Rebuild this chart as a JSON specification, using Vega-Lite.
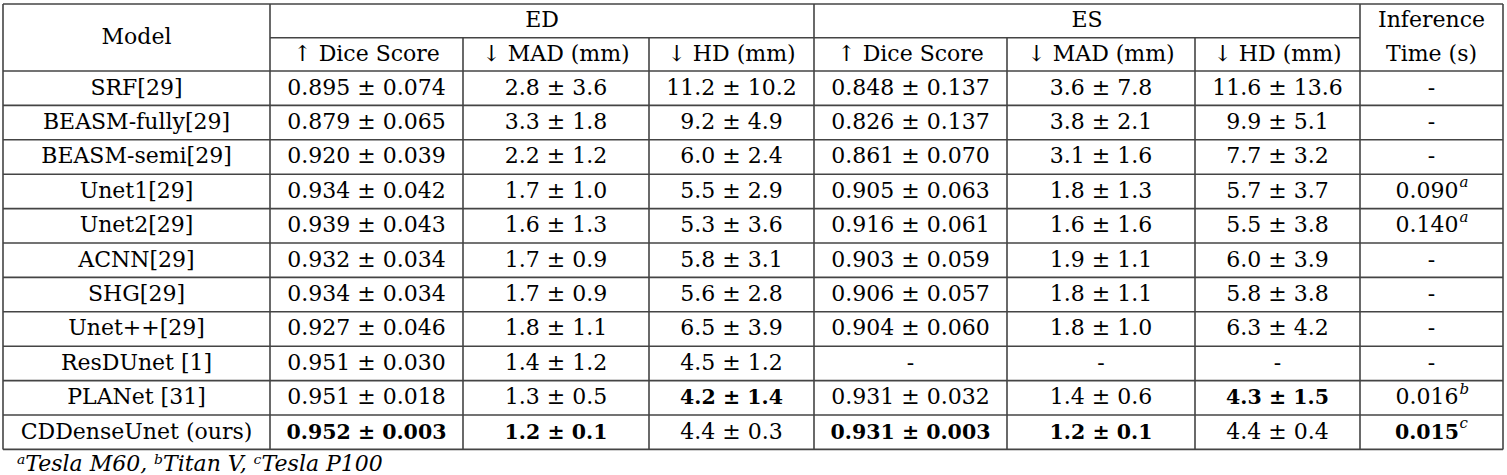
{
  "$schema": "https://vega.github.io/schema/vega-lite/v6.json",
  "width": 1507,
  "height": 475,
  "padding": 0,
  "autosize": {"type": "fit", "contains": "padding"},
  "background": "white",
  "config": {"view": {"stroke": null}, "text": {"font": "DejaVu Serif"}},
  "datasets": {
    "lines": [
      {"x": 0, "x2": 8, "y": -2, "y2": -2},
      {"x": 1, "x2": 7, "y": -1, "y2": -1},
      {"x": 0, "x2": 8, "y": 0, "y2": 0},
      {"x": 0, "x2": 8, "y": 1, "y2": 1},
      {"x": 0, "x2": 8, "y": 2, "y2": 2},
      {"x": 0, "x2": 8, "y": 3, "y2": 3},
      {"x": 0, "x2": 8, "y": 4, "y2": 4},
      {"x": 0, "x2": 8, "y": 5, "y2": 5},
      {"x": 0, "x2": 8, "y": 6, "y2": 6},
      {"x": 0, "x2": 8, "y": 7, "y2": 7},
      {"x": 0, "x2": 8, "y": 8, "y2": 8},
      {"x": 0, "x2": 8, "y": 9, "y2": 9},
      {"x": 0, "x2": 8, "y": 10, "y2": 10},
      {"x": 0, "x2": 8, "y": 11, "y2": 11},
      {"x": 0, "x2": 0, "y": -2, "y2": 11},
      {"x": 1, "x2": 1, "y": -2, "y2": 11},
      {"x": 4, "x2": 4, "y": -2, "y2": 11},
      {"x": 7, "x2": 7, "y": -2, "y2": 11},
      {"x": 8, "x2": 8, "y": -2, "y2": 11},
      {"x": 2, "x2": 2, "y": -1, "y2": 11},
      {"x": 3, "x2": 3, "y": -1, "y2": 11},
      {"x": 5, "x2": 5, "y": -1, "y2": 11},
      {"x": 6, "x2": 6, "y": -1, "y2": 11}
    ],
    "header": [
      {"c": 0.5, "r": -1, "t": "Model"},
      {"c": 2.425, "r": -1.5, "t": "ED"},
      {"c": 5.426, "r": -1.5, "t": "ES"},
      {"c": 7.5, "r": -1.5, "t": "Inference"},
      {"c": 1.5, "r": -0.5, "t": "↑ Dice Score"},
      {"c": 2.5, "r": -0.5, "t": "↓ MAD (mm)"},
      {"c": 3.5, "r": -0.5, "t": "↓ HD (mm)"},
      {"c": 4.5, "r": -0.5, "t": "↑ Dice Score"},
      {"c": 5.5, "r": -0.5, "t": "↓ MAD (mm)"},
      {"c": 6.5, "r": -0.5, "t": "↓ HD (mm)"},
      {"c": 7.5, "r": -0.5, "t": "Time (s)"}
    ],
    "body": [
      {"r": 0.5, "c": 0.5, "t": "SRF[29]", "best": false},
      {"r": 0.5, "c": 1.5, "t": "0.895 ± 0.074", "best": false},
      {"r": 0.5, "c": 2.5, "t": "2.8 ± 3.6", "best": false},
      {"r": 0.5, "c": 3.5, "t": "11.2 ± 10.2", "best": false},
      {"r": 0.5, "c": 4.5, "t": "0.848 ± 0.137", "best": false},
      {"r": 0.5, "c": 5.5, "t": "3.6 ± 7.8", "best": false},
      {"r": 0.5, "c": 6.5, "t": "11.6 ± 13.6", "best": false},
      {"r": 0.5, "c": 7.5, "t": "-", "best": false},
      {"r": 1.5, "c": 0.5, "t": "BEASM-fully[29]", "best": false},
      {"r": 1.5, "c": 1.5, "t": "0.879 ± 0.065", "best": false},
      {"r": 1.5, "c": 2.5, "t": "3.3 ± 1.8", "best": false},
      {"r": 1.5, "c": 3.5, "t": "9.2 ± 4.9", "best": false},
      {"r": 1.5, "c": 4.5, "t": "0.826 ± 0.137", "best": false},
      {"r": 1.5, "c": 5.5, "t": "3.8 ± 2.1", "best": false},
      {"r": 1.5, "c": 6.5, "t": "9.9 ± 5.1", "best": false},
      {"r": 1.5, "c": 7.5, "t": "-", "best": false},
      {"r": 2.5, "c": 0.5, "t": "BEASM-semi[29]", "best": false},
      {"r": 2.5, "c": 1.5, "t": "0.920 ± 0.039", "best": false},
      {"r": 2.5, "c": 2.5, "t": "2.2 ± 1.2", "best": false},
      {"r": 2.5, "c": 3.5, "t": "6.0 ± 2.4", "best": false},
      {"r": 2.5, "c": 4.5, "t": "0.861 ± 0.070", "best": false},
      {"r": 2.5, "c": 5.5, "t": "3.1 ± 1.6", "best": false},
      {"r": 2.5, "c": 6.5, "t": "7.7 ± 3.2", "best": false},
      {"r": 2.5, "c": 7.5, "t": "-", "best": false},
      {"r": 3.5, "c": 0.5, "t": "Unet1[29]", "best": false},
      {"r": 3.5, "c": 1.5, "t": "0.934 ± 0.042", "best": false},
      {"r": 3.5, "c": 2.5, "t": "1.7 ± 1.0", "best": false},
      {"r": 3.5, "c": 3.5, "t": "5.5 ± 2.9", "best": false},
      {"r": 3.5, "c": 4.5, "t": "0.905 ± 0.063", "best": false},
      {"r": 3.5, "c": 5.5, "t": "1.8 ± 1.3", "best": false},
      {"r": 3.5, "c": 6.5, "t": "5.7 ± 3.7", "best": false},
      {"r": 4.5, "c": 0.5, "t": "Unet2[29]", "best": false},
      {"r": 4.5, "c": 1.5, "t": "0.939 ± 0.043", "best": false},
      {"r": 4.5, "c": 2.5, "t": "1.6 ± 1.3", "best": false},
      {"r": 4.5, "c": 3.5, "t": "5.3 ± 3.6", "best": false},
      {"r": 4.5, "c": 4.5, "t": "0.916 ± 0.061", "best": false},
      {"r": 4.5, "c": 5.5, "t": "1.6 ± 1.6", "best": false},
      {"r": 4.5, "c": 6.5, "t": "5.5 ± 3.8", "best": false},
      {"r": 5.5, "c": 0.5, "t": "ACNN[29]", "best": false},
      {"r": 5.5, "c": 1.5, "t": "0.932 ± 0.034", "best": false},
      {"r": 5.5, "c": 2.5, "t": "1.7 ± 0.9", "best": false},
      {"r": 5.5, "c": 3.5, "t": "5.8 ± 3.1", "best": false},
      {"r": 5.5, "c": 4.5, "t": "0.903 ± 0.059", "best": false},
      {"r": 5.5, "c": 5.5, "t": "1.9 ± 1.1", "best": false},
      {"r": 5.5, "c": 6.5, "t": "6.0 ± 3.9", "best": false},
      {"r": 5.5, "c": 7.5, "t": "-", "best": false},
      {"r": 6.5, "c": 0.5, "t": "SHG[29]", "best": false},
      {"r": 6.5, "c": 1.5, "t": "0.934 ± 0.034", "best": false},
      {"r": 6.5, "c": 2.5, "t": "1.7 ± 0.9", "best": false},
      {"r": 6.5, "c": 3.5, "t": "5.6 ± 2.8", "best": false},
      {"r": 6.5, "c": 4.5, "t": "0.906 ± 0.057", "best": false},
      {"r": 6.5, "c": 5.5, "t": "1.8 ± 1.1", "best": false},
      {"r": 6.5, "c": 6.5, "t": "5.8 ± 3.8", "best": false},
      {"r": 6.5, "c": 7.5, "t": "-", "best": false},
      {"r": 7.5, "c": 0.5, "t": "Unet++[29]", "best": false},
      {"r": 7.5, "c": 1.5, "t": "0.927 ± 0.046", "best": false},
      {"r": 7.5, "c": 2.5, "t": "1.8 ± 1.1", "best": false},
      {"r": 7.5, "c": 3.5, "t": "6.5 ± 3.9", "best": false},
      {"r": 7.5, "c": 4.5, "t": "0.904 ± 0.060", "best": false},
      {"r": 7.5, "c": 5.5, "t": "1.8 ± 1.0", "best": false},
      {"r": 7.5, "c": 6.5, "t": "6.3 ± 4.2", "best": false},
      {"r": 7.5, "c": 7.5, "t": "-", "best": false},
      {"r": 8.5, "c": 0.5, "t": "ResDUnet [1]", "best": false},
      {"r": 8.5, "c": 1.5, "t": "0.951 ± 0.030", "best": false},
      {"r": 8.5, "c": 2.5, "t": "1.4 ± 1.2", "best": false},
      {"r": 8.5, "c": 3.5, "t": "4.5 ± 1.2", "best": false},
      {"r": 8.5, "c": 4.5, "t": "-", "best": false},
      {"r": 8.5, "c": 5.5, "t": "-", "best": false},
      {"r": 8.5, "c": 6.5, "t": "-", "best": false},
      {"r": 8.5, "c": 7.5, "t": "-", "best": false},
      {"r": 9.5, "c": 0.5, "t": "PLANet [31]", "best": false},
      {"r": 9.5, "c": 1.5, "t": "0.951 ± 0.018", "best": false},
      {"r": 9.5, "c": 2.5, "t": "1.3 ± 0.5", "best": false},
      {"r": 9.5, "c": 3.5, "t": "4.2 ± 1.4", "best": true},
      {"r": 9.5, "c": 4.5, "t": "0.931 ± 0.032", "best": false},
      {"r": 9.5, "c": 5.5, "t": "1.4 ± 0.6", "best": false},
      {"r": 9.5, "c": 6.5, "t": "4.3 ± 1.5", "best": true},
      {"r": 10.5, "c": 0.5, "t": "CDDenseUnet (ours)", "best": false},
      {"r": 10.5, "c": 1.5, "t": "0.952 ± 0.003", "best": true},
      {"r": 10.5, "c": 2.5, "t": "1.2 ± 0.1", "best": true},
      {"r": 10.5, "c": 3.5, "t": "4.4 ± 0.3", "best": false},
      {"r": 10.5, "c": 4.5, "t": "0.931 ± 0.003", "best": true},
      {"r": 10.5, "c": 5.5, "t": "1.2 ± 0.1", "best": true},
      {"r": 10.5, "c": 6.5, "t": "4.4 ± 0.4", "best": false}
    ],
    "timing": [
      {"r": 3.5, "c": 7.5, "t": "0.090", "note": "a", "best": false},
      {"r": 4.5, "c": 7.5, "t": "0.140", "note": "a", "best": false},
      {"r": 9.5, "c": 7.5, "t": "0.016", "note": "b", "best": false},
      {"r": 10.5, "c": 7.5, "t": "0.015", "note": "c", "best": true}
    ],
    "foot": [
      {"c": 0, "r": 11.5, "t": "ᵃTesla M60, ᵇTitan V, ᶜTesla P100"}
    ]
  },
  "layer": [
    {
      "data": {"name": "lines"},
      "mark": {"type": "rule", "stroke": "#444444", "strokeWidth": 1.6},
      "encoding": {
        "x": {"field": "x", "type": "quantitative", "axis": null,
              "scale": {"domain": [0, 1, 2, 3, 4, 5, 6, 7, 8], "range": [3, 270, 463, 649, 814, 1007, 1195, 1360, 1503], "nice": false, "zero": false}},
        "x2": {"field": "x2"},
        "y": {"field": "y", "type": "quantitative", "axis": null,
              "scale": {"domain": [-2, -1, 0, 11], "range": [4, 37.7, 71, 449.4], "nice": false, "zero": false}},
        "y2": {"field": "y2"}
      }
    },
    {
      "data": {"name": "header"},
      "mark": {"type": "text", "fontSize": 22, "color": "#000000", "align": "center", "baseline": "alphabetic", "dy": 6.5},
      "encoding": {
        "x": {"field": "c", "type": "quantitative"},
        "y": {"field": "r", "type": "quantitative"},
        "text": {"field": "t"}
      }
    },
    {
      "data": {"name": "body"},
      "transform": [{"filter": "!datum.best"}],
      "mark": {"type": "text", "fontSize": 22, "color": "#000000", "align": "center", "baseline": "alphabetic", "dy": 6.3},
      "encoding": {
        "x": {"field": "c", "type": "quantitative"},
        "y": {"field": "r", "type": "quantitative"},
        "text": {"field": "t"}
      }
    },
    {
      "data": {"name": "body"},
      "transform": [{"filter": "datum.best"}],
      "mark": {"type": "text", "fontSize": 20.5, "fontWeight": "bold", "color": "#000000", "align": "center", "baseline": "alphabetic", "dy": 6.3},
      "encoding": {
        "x": {"field": "c", "type": "quantitative"},
        "y": {"field": "r", "type": "quantitative"},
        "text": {"field": "t"}
      }
    },
    {
      "data": {"name": "timing"},
      "transform": [{"filter": "!datum.best"}],
      "mark": {"type": "text", "fontSize": 22, "color": "#000000", "align": "center", "baseline": "alphabetic", "dx": -4.5, "dy": 6.3},
      "encoding": {
        "x": {"field": "c", "type": "quantitative"},
        "y": {"field": "r", "type": "quantitative"},
        "text": {"field": "t"}
      }
    },
    {
      "data": {"name": "timing"},
      "transform": [{"filter": "datum.best"}],
      "mark": {"type": "text", "fontSize": 20.5, "fontWeight": "bold", "color": "#000000", "align": "center", "baseline": "alphabetic", "dx": -4.5, "dy": 6.3},
      "encoding": {
        "x": {"field": "c", "type": "quantitative"},
        "y": {"field": "r", "type": "quantitative"},
        "text": {"field": "t"}
      }
    },
    {
      "data": {"name": "timing"},
      "mark": {"type": "text", "fontSize": 15, "fontStyle": "italic", "color": "#000000", "align": "left", "baseline": "alphabetic", "dx": 28, "dy": -4},
      "encoding": {
        "x": {"field": "c", "type": "quantitative"},
        "y": {"field": "r", "type": "quantitative"},
        "text": {"field": "note"}
      }
    },
    {
      "data": {"name": "foot"},
      "mark": {"type": "text", "fontSize": 22, "fontStyle": "italic", "color": "#000000", "align": "left", "baseline": "alphabetic", "dx": 14, "dy": 4.5},
      "encoding": {
        "x": {"field": "c", "type": "quantitative"},
        "y": {"field": "r", "type": "quantitative"},
        "text": {"field": "t"}
      }
    }
  ]
}
